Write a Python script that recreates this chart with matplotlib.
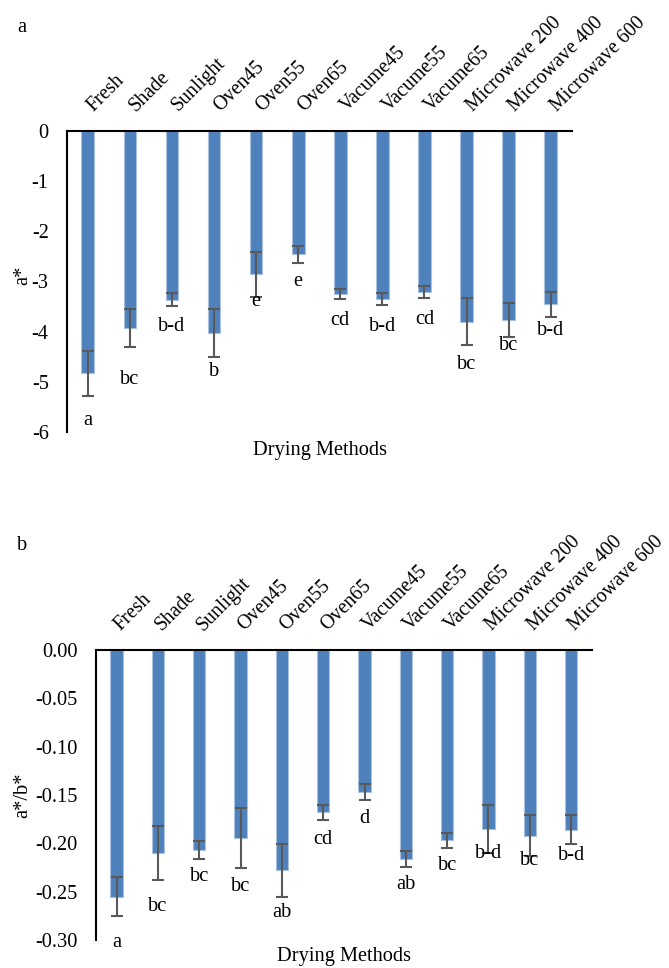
import matplotlib
matplotlib.use('Agg')
import matplotlib.pyplot as plt
import matplotlib.transforms as mtransforms
import numpy as np

plt.rcParams['font.family'] = ['Liberation Serif', 'DejaVu Serif']
plt.rcParams['axes.unicode_minus'] = False

methods = ['Fresh', 'Shade', 'Sunlight', 'Oven45', 'Oven55', 'Oven65',
           'Vacume45', 'Vacume55', 'Vacume65',
           'Microwave 200', 'Microwave 400', 'Microwave 600']

# panel a: a*
a_values = [-4.83, -3.93, -3.37, -4.03, -2.86, -2.46, -3.26, -3.36, -3.22, -3.80, -3.77, -3.46]
a_errors = [0.45, 0.38, 0.13, 0.47, 0.45, 0.17, 0.10, 0.12, 0.12, 0.46, 0.33, 0.25]
a_letters = ['a', 'bc', 'b-d', 'b', 'e', 'e', 'cd', 'b-d', 'cd', 'bc', 'bc', 'b-d']
a_letter_y = [-5.77, -4.96, -3.90, -4.79, -3.40, -3.00, -3.78, -3.89, -3.75, -4.66, -4.28, -3.97]
a_ticks = [0, -1, -2, -3, -4, -5, -6]

# panel b: a*/b*
b_values = [-0.255, -0.210, -0.207, -0.194, -0.228, -0.168, -0.147, -0.216, -0.197, -0.185, -0.192, -0.186]
b_errors = [0.020, 0.028, 0.009, 0.031, 0.027, 0.008, 0.008, 0.008, 0.008, 0.025, 0.021, 0.015]
b_letters = ['a', 'bc', 'bc', 'bc', 'ab', 'cd', 'd', 'ab', 'bc', 'b-d', 'bc', 'b-d']
b_letter_y = [-0.303, -0.265, -0.2345, -0.245, -0.272, -0.196, -0.174, -0.243, -0.223, -0.211, -0.218, -0.213]
b_ticks = [0.0, -0.05, -0.10, -0.15, -0.20, -0.25, -0.30]

BAR = '#4F81BD'
ERR = '#595959'
FS = 14.7


def draw_panel(fig, ax, values, errors, letters, letter_y, ylim, yticks, yfmt, ylabel, xshift):
    x = np.arange(len(methods))
    ax.bar(x, values, width=0.3, color=BAR, edgecolor='#A9C1DF', linewidth=0.8, zorder=2)
    ax.errorbar(x, values, yerr=errors, fmt='none', ecolor=ERR, elinewidth=1.5,
                capsize=4.3, capthick=1.5, zorder=3)
    for i in range(len(x)):
        ax.text(x[i], letter_y[i], letters[i], ha='center', va='center', fontsize=FS, clip_on=False)

    ax.set_xlim(-0.5, len(methods) - 0.5)
    ax.set_ylim(*ylim)
    ax.set_yticks(yticks)
    ax.set_yticklabels([yfmt.format(t) for t in yticks], fontsize=FS)
    ax.tick_params(axis='y', length=0, pad=13)

    ax.xaxis.tick_top()
    ax.set_xticks(x)
    ax.set_xticklabels(methods, rotation=45, ha='left', va='baseline',
                       rotation_mode='anchor', fontsize=14.3)
    ax.tick_params(axis='x', length=0, pad=13.5)
    # nudge labels a little to the right, like the excel layout
    shift = mtransforms.ScaledTranslation(xshift, 0, fig.dpi_scale_trans)
    for lbl in ax.get_xticklabels():
        lbl.set_transform(lbl.get_transform() + shift)

    for side in ['bottom', 'right']:
        ax.spines[side].set_visible(False)
    for side in ['top', 'left']:
        ax.spines[side].set_linewidth(1.5)
        ax.spines[side].set_color('black')
    ax.set_ylabel(ylabel, fontsize=FS)


fig = plt.figure(figsize=(6.69, 9.68), dpi=100)

ax_a = fig.add_axes([0.0997, 0.5537, 0.755, 0.3113])
draw_panel(fig, ax_a, a_values, a_errors, a_letters, a_letter_y, (-6, 0), a_ticks, '{:.0f}', 'a*', 0.06)
ax_a.yaxis.set_label_coords(-0.068, 0.52)
fig.text(320 / 669, 1 - 450 / 968, 'Drying Methods', ha='center', va='center', fontsize=FS)
fig.text(22 / 669, 1 - 28 / 968, 'a', ha='center', va='center', fontsize=FS)

ax_b = fig.add_axes([0.1435, 0.0289, 0.741, 0.2996])
draw_panel(fig, ax_b, b_values, b_errors, b_letters, b_letter_y, (-0.30, 0), b_ticks, '{:.2f}', 'a*/b*', 0.04)
ax_b.yaxis.set_label_coords(-0.129, 0.5)
fig.text(344 / 669, 1 - 957 / 968, 'Drying Methods', ha='center', va='center', fontsize=FS)
fig.text(22 / 669, 1 - 545 / 968, 'b', ha='center', va='center', fontsize=FS)

fig.savefig('out.png', dpi=100)
